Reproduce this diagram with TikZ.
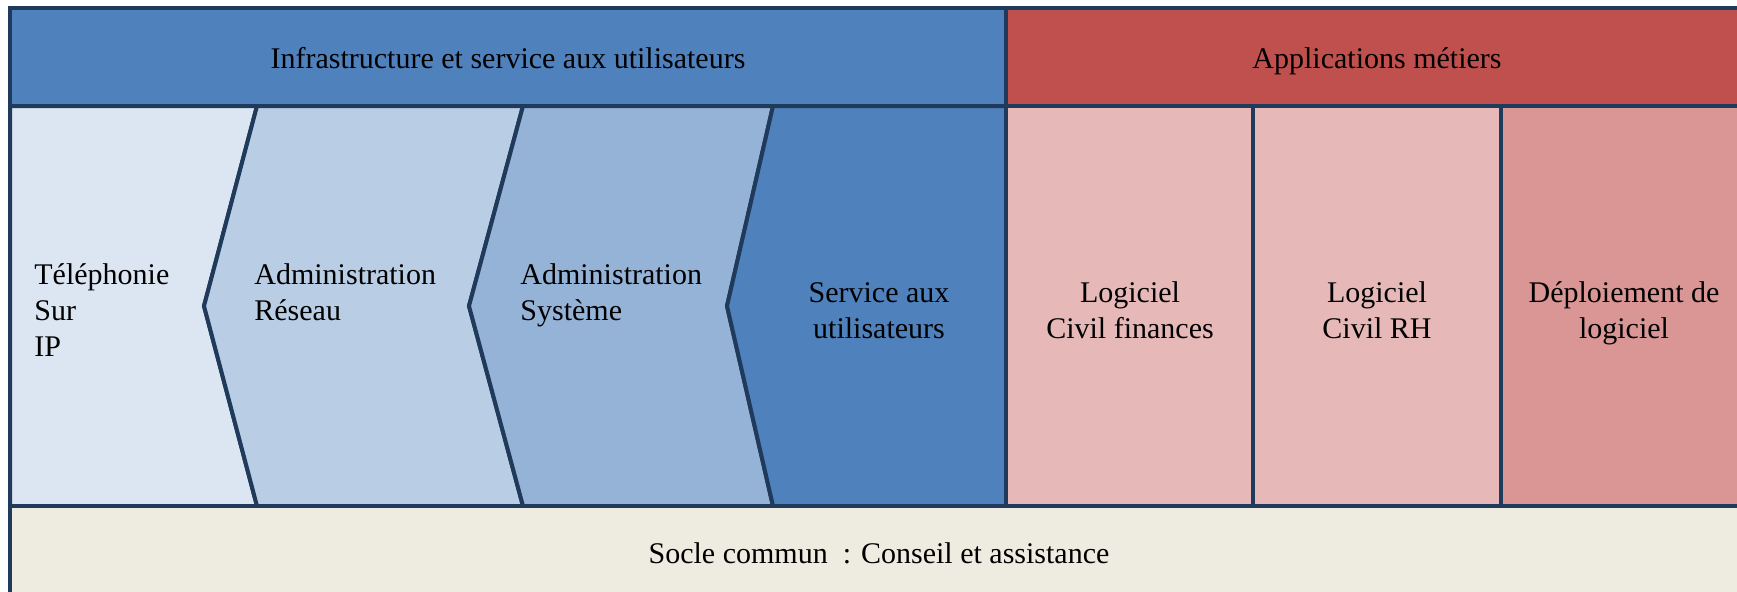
\documentclass[tikz,border=0pt]{standalone}
\usepackage{fontspec}
\setmainfont{Liberation Serif}
\usepackage{xcolor}
\usepackage{tikz}
\definecolor{bordure}{HTML}{1F3A5A}
\definecolor{bleu}{HTML}{4F81BD}
\definecolor{rouge}{HTML}{C0504D}
\definecolor{bleuclair}{HTML}{DCE6F2}
\definecolor{bleumoyen}{HTML}{B9CDE5}
\definecolor{bleufonce}{HTML}{95B3D7}
\definecolor{roseclair}{HTML}{E6B9B8}
\definecolor{rosefonce}{HTML}{D99694}
\definecolor{beige}{HTML}{EEECE1}

\begin{document}
\begin{tikzpicture}[x=0.5pt,y=-0.5pt,
  cadre/.style={draw=bordure,line width=2pt},
  texte/.style={font=\fontsize{15}{18}\selectfont,inner sep=0pt}]
\useasboundingbox (0,0) rectangle (1737,591);
\clip (0,0) rectangle (1737,591);
% bandeaux
\filldraw[cadre,fill=bleu] (10,8) rectangle (1006,106);
\filldraw[cadre,fill=rouge] (1006,8) rectangle (1747,106);
% chevrons
\filldraw[cadre,fill=bleuclair] (10,106) -- (257,106) -- (204,306) -- (257,506) -- (10,506) -- cycle;
\filldraw[cadre,fill=bleumoyen] (257,106) -- (523,106) -- (469,306) -- (523,506) -- (257,506) -- (204,306) -- cycle;
\filldraw[cadre,fill=bleufonce] (523,106) -- (773,106) -- (727,306) -- (773,506) -- (523,506) -- (469,306) -- cycle;
\filldraw[cadre,fill=bleu] (773,106) -- (1006,106) -- (1006,506) -- (773,506) -- (727,306) -- cycle;
% applications
\filldraw[cadre,fill=roseclair] (1006,106) rectangle (1253,506);
\filldraw[cadre,fill=roseclair] (1253,106) rectangle (1501,506);
\filldraw[cadre,fill=rosefonce] (1501,106) rectangle (1747,506);
% socle
\filldraw[cadre,fill=beige] (10,506) rectangle (1747,614);

\node[texte,anchor=base] (infra) at (508,68) {Infrastructure et service aux utilisateurs};
\node[texte,anchor=base] (appli) at (1377,68) {Applications métiers};
\node[texte,anchor=base west,align=left] (tel) at (34,356) {Téléphonie\\Sur\\IP};
\node[texte,anchor=base west,align=left] (reseau) at (254,320) {Administration\\Réseau};
\node[texte,anchor=base west,align=left] (systeme) at (520,320) {Administration\\Système};
\node[texte,anchor=base,align=center] (service) at (879,338) {Service aux\\utilisateurs};
\node[texte,anchor=base,align=center] (finances) at (1130,338) {Logiciel\\Civil finances};
\node[texte,anchor=base,align=center] (rh) at (1377,338) {Logiciel\\Civil RH};
\node[texte,anchor=base,align=center] (deploi) at (1624,338) {Déploiement de\\logiciel};
\node[texte,anchor=base] (socle) at (879,563) {Socle commun\enspace: Conseil et assistance};
\end{tikzpicture}
\end{document}
